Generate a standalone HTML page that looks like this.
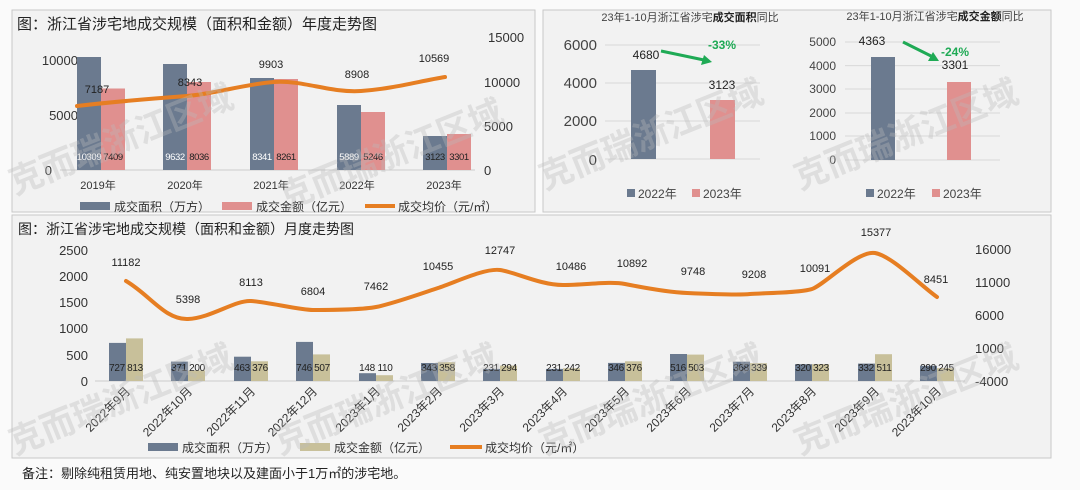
<!DOCTYPE html>
<html><head><meta charset="utf-8"><style>
body{margin:0;background:#fff;}
svg{display:block;font-family:"Liberation Sans","Noto Sans CJK SC",sans-serif;}
</style></head><body>
<svg width="1080" height="490" viewBox="0 0 1080 490" xmlns="http://www.w3.org/2000/svg">
<rect width="1080" height="490" fill="#fafafa"/>
<rect x="12" y="10" width="523" height="202" fill="#f2f2f2" stroke="#c8c8c8"/>
<rect x="543" y="10" width="508" height="202" fill="#f2f2f2" stroke="#c8c8c8"/>
<rect x="12" y="215" width="1039" height="243" fill="#f2f2f2" stroke="#c8c8c8"/>

<text x="17" y="29" font-size="15" fill="#222">图：浙江省涉宅地成交规模（面积和金额）年度走势图</text>
<g font-size="13" fill="#333">
<text x="78" y="65" text-anchor="end">10000</text>
<text x="78" y="120" text-anchor="end">5000</text>
<text x="52" y="175" text-anchor="end">0</text>
<text x="488" y="42">15000</text>
<text x="484" y="87">10000</text>
<text x="484" y="131">5000</text>
<text x="484" y="175">0</text>
</g>
<line x1="60" y1="170" x2="475" y2="170" stroke="#ccc"/>
<g>
<rect x="77" y="57" width="24" height="113" fill="#6b7a8f"/><rect x="101" y="88.5" width="24" height="81.5" fill="#e0908f"/>
<rect x="163" y="64" width="24" height="106" fill="#6b7a8f"/><rect x="187" y="82" width="24" height="88" fill="#e0908f"/>
<rect x="250" y="78" width="24" height="92" fill="#6b7a8f"/><rect x="274" y="79" width="24" height="91" fill="#e0908f"/>
<rect x="337" y="105" width="24" height="65" fill="#6b7a8f"/><rect x="361" y="112" width="24" height="58" fill="#e0908f"/>
<rect x="423" y="136" width="24" height="34" fill="#6b7a8f"/><rect x="447" y="134" width="24" height="36" fill="#e0908f"/>
</g>
<path d="M77,106 C120,101 160,98 187,96 S245,84 274,82 S330,93 361,91 S420,81 445,77" fill="none" stroke="#e67e22" stroke-width="4" stroke-linecap="round"/>
<g font-size="11" fill="#222" text-anchor="middle">
<text x="97" y="93">7187</text><text x="190" y="86">8343</text><text x="271" y="68">9903</text><text x="357" y="78">8908</text><text x="434" y="62">10569</text>
</g>
<g font-size="9.5" text-anchor="middle" letter-spacing="-0.4">
<text x="89" y="160" fill="#fff">10309</text><text x="113" y="160" fill="#222">7409</text>
<text x="175" y="160" fill="#fff">9632</text><text x="199" y="160" fill="#222">8036</text>
<text x="262" y="160" fill="#fff">8341</text><text x="286" y="160" fill="#222">8261</text>
<text x="349" y="160" fill="#fff">5889</text><text x="373" y="160" fill="#222">5246</text>
<text x="435" y="160" fill="#222">3123</text><text x="459" y="160" fill="#222">3301</text>
</g>
<g font-size="11" fill="#333" text-anchor="middle">
<text x="98" y="189">2019年</text><text x="185" y="189">2020年</text><text x="271" y="189">2021年</text><text x="357" y="189">2022年</text><text x="444" y="189">2023年</text>
</g>
<g font-size="12" fill="#333">
<rect x="80" y="202" width="30" height="8" fill="#6b7a8f"/><text x="114" y="211">成交面积（万方）</text>
<rect x="222" y="202" width="30" height="8" fill="#e0908f"/><text x="256" y="211">成交金额（亿元）</text>
<line x1="365" y1="206" x2="395" y2="206" stroke="#e67e22" stroke-width="4"/><text x="398" y="211">成交均价（元/㎡）</text>
</g>

<text x="690" y="21" font-size="11" fill="#444" text-anchor="middle">23年1-10月浙江省涉宅<tspan font-weight="bold" fill="#222">成交面积</tspan>同比</text>
<g stroke="#d8d8d8"><line x1="605" y1="45" x2="760" y2="45"/><line x1="605" y1="83" x2="760" y2="83"/><line x1="605" y1="121" x2="760" y2="121"/><line x1="605" y1="159" x2="760" y2="159"/></g>
<g font-size="15" fill="#444" text-anchor="end">
<text x="597" y="50">6000</text><text x="597" y="88">4000</text><text x="597" y="126">2000</text><text x="597" y="165">0</text>
</g>
<rect x="631" y="70" width="25" height="89" fill="#6b7a8f"/>
<rect x="710" y="100" width="25" height="59" fill="#e0908f"/>
<text x="646" y="59" font-size="12" fill="#222" text-anchor="middle">4680</text>
<text x="722" y="89" font-size="12" fill="#222" text-anchor="middle">3123</text>
<text x="722" y="49" font-size="12" font-weight="bold" fill="#1faa55" text-anchor="middle">-33%</text>
<line x1="661" y1="51" x2="704" y2="60" stroke="#1faa55" stroke-width="3"/>
<polygon points="712,62 701,65 704,55" fill="#1faa55"/>
<g font-size="12" fill="#444">
<rect x="627" y="189" width="8" height="8" fill="#6b7a8f"/><text x="638" y="198">2022年</text>
<rect x="692" y="189" width="8" height="8" fill="#e0908f"/><text x="703" y="198">2023年</text>
</g>

<text x="935" y="20" font-size="11" fill="#444" text-anchor="middle">23年1-10月浙江省涉宅<tspan font-weight="bold" fill="#222">成交金额</tspan>同比</text>
<g stroke="#d8d8d8"><line x1="845" y1="42" x2="1000" y2="42"/><line x1="845" y1="65.6" x2="1000" y2="65.6"/><line x1="845" y1="89" x2="1000" y2="89"/><line x1="845" y1="113" x2="1000" y2="113"/><line x1="845" y1="136" x2="1000" y2="136"/><line x1="845" y1="160" x2="1000" y2="160"/></g>
<g font-size="12" fill="#444" text-anchor="end">
<text x="836" y="46">5000</text><text x="836" y="70">4000</text><text x="836" y="93">3000</text><text x="836" y="117">2000</text><text x="836" y="140">1000</text><text x="836" y="164">0</text>
</g>
<rect x="871" y="57" width="24" height="103" fill="#6b7a8f"/>
<rect x="947" y="82" width="24" height="78" fill="#e0908f"/>
<text x="872" y="45" font-size="12" fill="#222" text-anchor="middle">4363</text>
<text x="955" y="56" font-size="12" font-weight="bold" fill="#1faa55" text-anchor="middle">-24%</text>
<text x="955" y="69" font-size="12" fill="#222" text-anchor="middle">3301</text>
<line x1="903" y1="42" x2="931" y2="56" stroke="#1faa55" stroke-width="3"/>
<polygon points="939,61 928,61 933,52" fill="#1faa55"/>
<g font-size="12" fill="#444">
<rect x="866" y="189" width="8" height="8" fill="#6b7a8f"/><text x="877" y="198">2022年</text>
<rect x="932" y="189" width="8" height="8" fill="#e0908f"/><text x="943" y="198">2023年</text>
</g>

<text x="18" y="234" font-size="14" fill="#222">图：浙江省涉宅地成交规模（面积和金额）月度走势图</text>
<g font-size="13" fill="#333" text-anchor="end">
<text x="88" y="255">2500</text><text x="88" y="281">2000</text><text x="88" y="307">1500</text><text x="88" y="333">1000</text><text x="88" y="360">500</text><text x="88" y="386">0</text>
</g>
<g font-size="13" fill="#333">
<text x="975" y="254">16000</text><text x="975" y="287">11000</text><text x="975" y="320">6000</text><text x="975" y="353">1000</text><text x="975" y="386">-4000</text>
</g>
<line x1="95" y1="381" x2="965" y2="381" stroke="#ccc"/>
<g>
<rect x="109" y="342.9" width="17" height="38.1" fill="#6b7a8f"/><rect x="126" y="338.4" width="17" height="42.6" fill="#c8c09a"/>
<rect x="171" y="361.6" width="17" height="19.4" fill="#6b7a8f"/><rect x="188" y="370.5" width="17" height="10.5" fill="#c8c09a"/>
<rect x="234" y="356.7" width="17" height="24.3" fill="#6b7a8f"/><rect x="251" y="361.3" width="17" height="19.7" fill="#c8c09a"/>
<rect x="296" y="341.9" width="17" height="39.1" fill="#6b7a8f"/><rect x="313" y="354.4" width="17" height="26.6" fill="#c8c09a"/>
<rect x="359" y="373.2" width="17" height="7.8" fill="#6b7a8f"/><rect x="376" y="375.2" width="17" height="5.8" fill="#c8c09a"/>
<rect x="421" y="363" width="17" height="18" fill="#6b7a8f"/><rect x="438" y="362.2" width="17" height="18.8" fill="#c8c09a"/>
<rect x="483" y="368.9" width="17" height="12.1" fill="#6b7a8f"/><rect x="500" y="365.6" width="17" height="15.4" fill="#c8c09a"/>
<rect x="546" y="368.9" width="17" height="12.1" fill="#6b7a8f"/><rect x="563" y="368.3" width="17" height="12.7" fill="#c8c09a"/>
<rect x="608" y="362.9" width="17" height="18.1" fill="#6b7a8f"/><rect x="625" y="361.3" width="17" height="19.7" fill="#c8c09a"/>
<rect x="670" y="354" width="17" height="27" fill="#6b7a8f"/><rect x="687" y="354.6" width="17" height="26.4" fill="#c8c09a"/>
<rect x="733" y="361.7" width="17" height="19.3" fill="#6b7a8f"/><rect x="750" y="363.2" width="17" height="17.8" fill="#c8c09a"/>
<rect x="795" y="364.2" width="17" height="16.8" fill="#6b7a8f"/><rect x="812" y="364.1" width="17" height="16.9" fill="#c8c09a"/>
<rect x="858" y="363.6" width="17" height="17.4" fill="#6b7a8f"/><rect x="875" y="354.2" width="17" height="26.8" fill="#c8c09a"/>
<rect x="920" y="365.8" width="17" height="15.2" fill="#6b7a8f"/><rect x="937" y="368.2" width="17" height="12.8" fill="#c8c09a"/>
</g>
<g font-size="10" fill="#222" text-anchor="middle" letter-spacing="-0.3">
<text x="117" y="371">727</text><text x="135" y="371">813</text>
<text x="179" y="371">371</text><text x="197" y="371">200</text>
<text x="242" y="371">463</text><text x="260" y="371">376</text>
<text x="304" y="371">746</text><text x="322" y="371">507</text>
<text x="367" y="371">148</text><text x="385" y="371">110</text>
<text x="429" y="371">343</text><text x="447" y="371">358</text>
<text x="491" y="371">231</text><text x="509" y="371">294</text>
<text x="554" y="371">231</text><text x="572" y="371">242</text>
<text x="616" y="371">346</text><text x="634" y="371">376</text>
<text x="678" y="371">516</text><text x="696" y="371">503</text>
<text x="741" y="371">368</text><text x="759" y="371">339</text>
<text x="803" y="371">320</text><text x="821" y="371">323</text>
<text x="866" y="371">332</text><text x="884" y="371">511</text>
<text x="928" y="371">290</text><text x="946" y="371">245</text>
</g>
<path d="M126,281 C150,295 165,320 188,319 S235,300 251,301 S300,310 313,310 S360,310 376,307 S420,294 438,288 S485,268 500,270 S540,285 563,285 S610,281 625,284 S665,292 687,293 S740,295 750,294 S800,293 812,289 S858,250 875,253 S920,285 937,297" fill="none" stroke="#e67e22" stroke-width="4" stroke-linecap="round"/>
<g font-size="11" fill="#222" text-anchor="middle">
<text x="126" y="266">11182</text><text x="188" y="303">5398</text><text x="251" y="286">8113</text><text x="313" y="295">6804</text>
<text x="376" y="290">7462</text><text x="438" y="270">10455</text><text x="500" y="254">12747</text><text x="571" y="270">10486</text>
<text x="632" y="267">10892</text><text x="693" y="275">9748</text><text x="754" y="278">9208</text><text x="815" y="272">10091</text>
<text x="876" y="236">15377</text><text x="936" y="283">8451</text>
</g>
<g font-size="12" fill="#333" text-anchor="end">
<text transform="translate(131,392) rotate(-45)">2022年9月</text>
<text transform="translate(193,392) rotate(-45)">2022年10月</text>
<text transform="translate(256,392) rotate(-45)">2022年11月</text>
<text transform="translate(318,392) rotate(-45)">2022年12月</text>
<text transform="translate(381,392) rotate(-45)">2023年1月</text>
<text transform="translate(443,392) rotate(-45)">2023年2月</text>
<text transform="translate(505,392) rotate(-45)">2023年3月</text>
<text transform="translate(568,392) rotate(-45)">2023年4月</text>
<text transform="translate(630,392) rotate(-45)">2023年5月</text>
<text transform="translate(692,392) rotate(-45)">2023年6月</text>
<text transform="translate(755,392) rotate(-45)">2023年7月</text>
<text transform="translate(817,392) rotate(-45)">2023年8月</text>
<text transform="translate(880,392) rotate(-45)">2023年9月</text>
<text transform="translate(942,392) rotate(-45)">2023年10月</text>
</g>
<g font-size="12" fill="#333">
<rect x="148" y="443" width="30" height="8" fill="#6b7a8f"/><text x="182" y="452">成交面积（万方）</text>
<rect x="300" y="443" width="30" height="8" fill="#c8c09a"/><text x="334" y="452">成交金额（亿元）</text>
<line x1="450" y1="447" x2="482" y2="447" stroke="#e67e22" stroke-width="4"/><text x="485" y="452">成交均价（元/㎡）</text>
</g>
<text x="22" y="478" font-size="13" fill="#222">备注：剔除纯租赁用地、纯安置地块以及建面小于1万㎡的涉宅地。</text>

<g font-size="34" fill="#bbb" opacity="0.35" font-weight="bold">
<text transform="translate(15,195) rotate(-22)">克而瑞浙江区域</text>
<text transform="translate(285,210) rotate(-22)">克而瑞浙江区域</text>
<text transform="translate(545,190) rotate(-22)">克而瑞浙江区域</text>
<text transform="translate(800,190) rotate(-22)">克而瑞浙江区域</text>
<text transform="translate(15,455) rotate(-22)">克而瑞浙江区域</text>
<text transform="translate(280,455) rotate(-22)">克而瑞浙江区域</text>
<text transform="translate(545,455) rotate(-22)">克而瑞浙江区域</text>
<text transform="translate(800,455) rotate(-22)">克而瑞浙江区域</text>
</g>
</svg>
</body></html>
